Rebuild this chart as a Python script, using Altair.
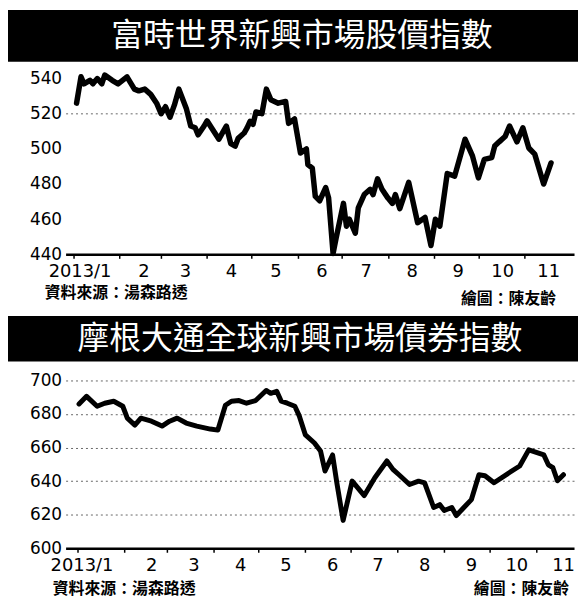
import altair as alt
import pandas as pd

title_top = "富時世界新興市場股價指數"
title_bottom = "摩根大通全球新興市場債券指數"
source_text = "資料來源：湯森路透"
credit_text = "繪圖：陳友齡"

# day-of-year (2013) at which each month starts -> axis ticks
month_starts = [0, 31, 59, 90, 120, 151, 181, 212, 243, 273, 304]

stock_days = [2, 5, 7, 11, 13, 16, 19, 21, 26, 30, 36, 41, 44, 48, 52, 56, 59, 62, 65, 68,
              71, 76, 79, 82, 84, 88, 90, 93, 98, 103, 106, 109, 111, 115, 117, 119, 121, 123, 127, 130,
              133, 138, 143, 145, 149, 153, 157, 158, 161, 163, 166, 170, 172, 175, 177, 182, 184, 186, 190, 192,
              196, 200, 202, 205, 208, 212, 215, 217, 220, 226, 232, 237, 241, 244, 247, 252, 257, 264, 269, 273,
              277, 282, 284, 287, 291, 294, 299, 303, 307, 311, 317, 322]
stock_values = [526, 541, 537, 539, 537, 540, 537, 542, 539, 537, 541, 534, 533, 534, 531, 526, 520, 524, 518, 525,
                534, 523, 513, 512, 508, 513, 516, 512, 505.5, 513, 503, 501.6, 506, 509, 512, 515.7, 514, 521, 520, 534,
                528, 526, 527, 514.5, 517, 497.6, 500, 491, 489, 473, 470.5, 478, 472, 440.5, 449, 469, 456, 460, 452, 466.5,
                474, 477, 474, 483, 477, 472, 469, 474, 466, 481, 458, 461, 445, 460, 456, 486, 484.5, 505.5, 496, 483.5,
                494, 495, 501.6, 504, 507, 513, 504, 512, 500.5, 497, 480, 492]

bond_days = [1, 6, 13, 18, 24, 30, 33, 38, 42, 49, 56, 61, 66, 72, 79, 88, 93, 98, 102, 107,
             112, 118, 125, 128, 132, 135, 139, 144, 147, 151, 157, 161, 164, 169, 172, 176, 182, 190, 197, 205,
             209, 213, 220, 226, 230, 236, 240, 243, 248, 251, 256, 261, 266, 270, 276, 286, 293, 299, 309, 312,
             315, 318, 322]
bond_values = [686, 690.5, 684.6, 686.4, 687.6, 684.6, 677.5, 673.4, 677.5, 675.7, 672.8, 675.7, 677.5, 674.6, 672.8, 671, 670.4, 685.2, 687.6, 688,
               686.4, 688, 694, 692.3, 693.5, 687.6, 686.4, 684.6, 678.7, 667.5, 662.7, 658, 646, 655.6, 638, 616.6, 640, 631.4, 642, 652,
               647, 643.8, 638, 640, 639, 624.3, 626, 622.5, 624.3, 619.5, 624.3, 629, 643.8, 643.2, 639, 645, 649, 658.6, 655.6, 649.7,
               648, 640.2, 643.8]

stock_ticks = [440, 460, 480, 500, 520, 540]
bond_ticks = [600, 620, 640, 660, 680, 700]

LABEL_EXPR = ("datum.value == 0 ? '2013/1' : '' + (indexof([0,31,59,90,120,151,181,212,243,273,304], datum.value) + 1)")
CJK = "Noto Sans CJK TC"
NUM = "DejaVu Sans"
LEFT = 58      # y-axis extent, px
PLOT_W = 512


def panel(days, values, xdom, ydom, yticks, height, grid_test, title, bar_h, title_cx,
          src_xy, credit_xy, off_first, off_rest, line_w):
    df = pd.DataFrame({"day": days, "value": values})
    xenc = alt.X("day:Q", title=None,
                 scale=alt.Scale(domain=xdom, nice=False, zero=False),
                 axis=alt.Axis(values=month_starts, labelExpr=LABEL_EXPR, grid=False,
                               domainColor="black", domainWidth=2.5,
                               tickColor="black", tickWidth=1.5, tickSize=4,
                               labelFont=NUM, labelFontSize=18, labelColor="black",
                               labelPadding=4, labelFlush=False, labelOverlap=False,
                               labelOffset={"condition": {"test": "datum.value == 0", "value": off_first},
                                            "value": off_rest}))
    yaxis = alt.Axis(values=yticks, domain=False, ticks=False, labelFont=NUM, labelFontSize=17,
                     labelColor="black", labelPadding=4, minExtent=LEFT, labelOverlap=False,
                     grid=True, gridDash=[2, 3], gridColor="#333333", gridWidth=1,
                     gridOpacity={"condition": {"test": grid_test, "value": 0.75}, "value": 0})
    yenc = alt.Y("value:Q", title=None, scale=alt.Scale(domain=ydom, nice=False, zero=False), axis=yaxis)

    line = alt.Chart(df).mark_line(color="black", strokeWidth=line_w, strokeJoin="round", strokeCap="round").encode(
        x=xenc, y=yenc)

    one = pd.DataFrame({"t": [title]})
    bar = alt.Chart(one).mark_rect(color="black").encode(
        x=alt.value(-LEFT), x2=alt.value(PLOT_W + 4), y=alt.value(-bar_h), y2=alt.value(0))
    ttl = alt.Chart(one).mark_text(font=CJK, fontSize=32, color="white", align="center", baseline="middle").encode(
        text="t:N", x=alt.value(title_cx - LEFT - 8), y=alt.value(-bar_h / 2))

    src = alt.Chart(pd.DataFrame({"t": [source_text]})).mark_text(
        font=CJK, fontSize=16, fontWeight="bold", color="black", align="left", baseline="middle"
    ).encode(text="t:N", x=alt.value(src_xy[0]), y=alt.value(src_xy[1]))
    cred = alt.Chart(pd.DataFrame({"t": [credit_text]})).mark_text(
        font=CJK, fontSize=16, fontWeight="bold", color="black", align="right", baseline="middle"
    ).encode(text="t:N", x=alt.value(credit_xy[0]), y=alt.value(credit_xy[1]))
    return alt.layer(line, bar, ttl, src, cred).properties(width=PLOT_W, height=height)


top_panel = panel(stock_days, stock_values, [-5.4, 337.5], [440, 549.6], stock_ticks, 194,
                  "datum.value == 520", title_top, 52, 304,
                  (-21, 233), (494, 239), 6, 24, 5.5)
bottom_panel = panel(bond_days, bond_values, [-7.9, 329], [600, 711.2], bond_ticks, 188,
                     "datum.value > 600", title_bottom, 46, 302,
                     (-13, 229), (507, 229), 4, 27, 5)

chart = alt.vconcat(top_panel, bottom_panel, spacing=9).properties(
    padding=0, background="white"
).configure_view(strokeWidth=0)

chart.save("out.html", embed_options={"renderer": "svg", "actions": False})
